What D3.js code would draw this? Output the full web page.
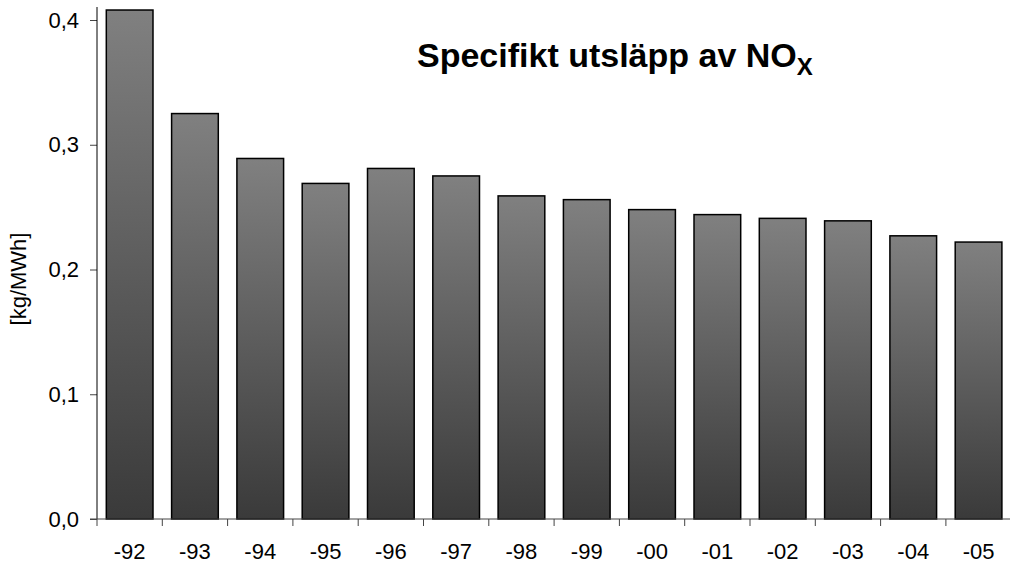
<!DOCTYPE html>
<html>
<head>
<meta charset="utf-8">
<script src="https://cdn.jsdelivr.net/npm/d3@7"></script>
<style>
  body { margin: 0; background: #fff; }
  text { font-family: "Liberation Sans", Arial, sans-serif; }
</style>
</head>
<body>
<div id="chart"></div>
<script>
// chart data
var years = ["-92", "-93", "-94", "-95", "-96", "-97", "-98", "-99", "-00", "-01", "-02", "-03", "-04", "-05"];
var noxValues = [0.408, 0.325, 0.289, 0.269, 0.281, 0.275, 0.259, 0.256, 0.248, 0.244, 0.241, 0.239, 0.227, 0.222];
var yTicks = [0, 0.1, 0.2, 0.3, 0.4];

var svgWidth = 1010;
var svgHeight = 564;

var svg = d3.select("#chart")
  .append("svg")
  .attr("width", svgWidth)
  .attr("height", svgHeight);

// gradient used by every bar (light at top, dark at bottom)
var grad = svg.append("defs").append("linearGradient")
  .attr("id", "barGrad")
  .attr("x1", 0).attr("y1", 0)
  .attr("x2", 0).attr("y2", 1);
grad.append("stop").attr("offset", "0%").attr("stop-color", "#808080");
grad.append("stop").attr("offset", "100%").attr("stop-color", "#3a3a3a");

// scales
var x = d3.scaleBand()
  .domain(years)
  .range([97, 1011.2])
  .paddingInner(0.285)
  .paddingOuter(0.1425);

var y = d3.scaleLinear()
  .domain([0, 0.1])
  .range([519, 394.25]);

// bars
svg.selectAll("rect.bar")
  .data(noxValues)
  .enter()
  .append("rect")
  .attr("class", "bar")
  .attr("x", (d, i) => x(years[i]))
  .attr("y", d => y(d))
  .attr("width", x.bandwidth())
  .attr("height", d => y(0) - y(d))
  .attr("fill", "url(#barGrad)")
  .attr("stroke", "#000")
  .attr("stroke-width", 1.5);

// y axis
var leftAxis = d3.axisLeft(y)
  .tickValues(yTicks)
  .tickSize(7)
  .tickPadding(11)
  .tickFormat(d => d3.format(".1f")(d).replace(".", ","));

var yAxis = svg.append("g")
  .attr("transform", "translate(97,0)")
  .call(leftAxis);
yAxis.select(".domain").remove();
yAxis.append("line")
  .attr("x1", 0).attr("x2", 0)
  .attr("y1", 7).attr("y2", 519)
  .attr("stroke", "#000");
yAxis.selectAll(".tick line").attr("stroke", "#444");
yAxis.selectAll(".tick text")
  .attr("font-size", "22px")
  .attr("fill", "#000");

// x axis line + ticks between categories
var xg = svg.append("g");
xg.append("line")
  .attr("x1", 90).attr("x2", 1010)
  .attr("y1", 519).attr("y2", 519)
  .attr("stroke", "#444");
xg.selectAll("line.sep")
  .data(d3.range(years.length + 1))
  .enter()
  .append("line")
  .attr("class", "sep")
  .attr("x1", i => 97 + i * x.step())
  .attr("x2", i => 97 + i * x.step())
  .attr("y1", 519).attr("y2", 526)
  .attr("stroke", "#444");
xg.selectAll("text")
  .data(years)
  .enter()
  .append("text")
  .attr("x", d => x(d) + x.bandwidth() / 2)
  .attr("y", 559)
  .attr("text-anchor", "middle")
  .attr("font-size", "22px")
  .text(d => d);

// y axis label
svg.append("text")
  .attr("transform", "translate(18,279) rotate(-90)")
  .attr("text-anchor", "middle")
  .attr("dy", "0.35em")
  .attr("font-size", "22px")
  .text("[kg/MWh]");

// title with subscript
var title = svg.append("text")
  .attr("x", 417)
  .attr("y", 67)
  .attr("font-size", "34px")
  .attr("font-weight", "bold");
title.append("tspan").text("Specifikt utsläpp av NO");
title.append("tspan")
  .attr("font-size", "24px")
  .attr("dy", 8)
  .text("X");
</script>
</body>
</html>
